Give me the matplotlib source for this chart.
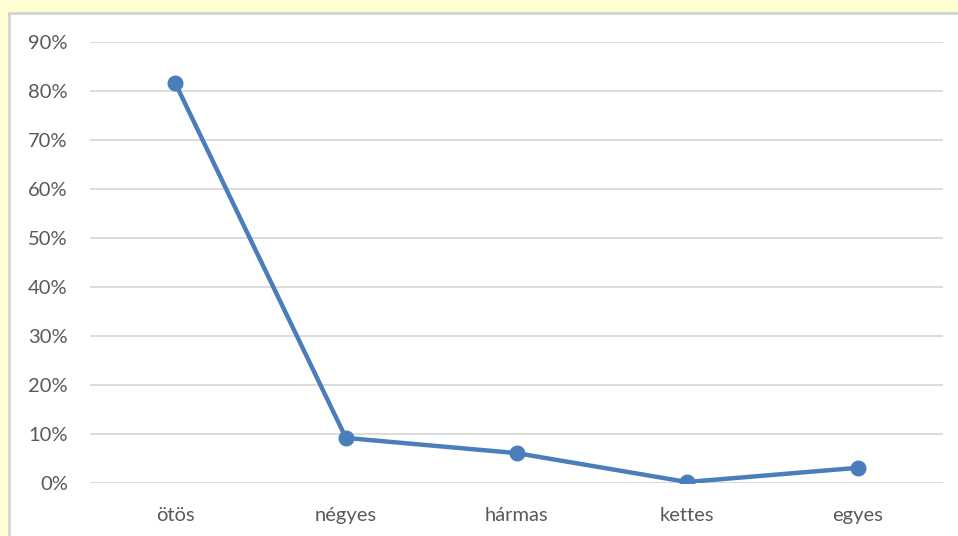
import matplotlib.pyplot as plt
from matplotlib.patches import Rectangle
from matplotlib.ticker import PercentFormatter

categories = ['ötös', 'négyes', 'hármas', 'kettes', 'egyes']
shares = [0.816, 0.092, 0.061, 0.002, 0.031]
yticks = [0.0, 0.1, 0.2, 0.3, 0.4, 0.5, 0.6, 0.7, 0.8, 0.9]

plt.rcParams['font.family'] = ['Lato', 'DejaVu Sans']

fig = plt.figure(figsize=(9.58, 5.36), dpi=100)
fig.patch.set_facecolor('#FFFDD3')

# white chart area with a light grey frame
frame = Rectangle((9 / 958, -0.1), 1.2, 1 - 13 / 536 + 0.1, transform=fig.transFigure,
                  facecolor='white', edgecolor='#D4D4D4', linewidth=2, zorder=-1)
fig.patches.append(frame)

ax = fig.add_axes([90 / 958, 1 - 483 / 536, (943 - 90) / 958, (483 - 42) / 536])
ax.set_facecolor('none')
ax.set_zorder(1)

x = range(len(categories))
ax.plot(x, shares, color='#4A7EBB', linewidth=3.2, marker='o', markersize=10.5,
        solid_capstyle='round', zorder=3)

ax.set_xlim(-0.5, len(categories) - 0.5)
ax.set_ylim(0, 0.9)
ax.set_yticks(yticks)
ax.yaxis.set_major_formatter(PercentFormatter(1.0, decimals=0))
ax.set_xticks(list(x))
ax.set_xticklabels(categories)

ax.grid(axis='y', color='#D9D9D9', linewidth=1.3)
ax.set_axisbelow(True)
for s in ax.spines.values():
    s.set_visible(False)
ax.tick_params(length=0, labelsize=14.5, colors='#595959')
ax.tick_params(axis='y', pad=16)
ax.tick_params(axis='x', pad=17)

fig.savefig('out.png', dpi=100)
